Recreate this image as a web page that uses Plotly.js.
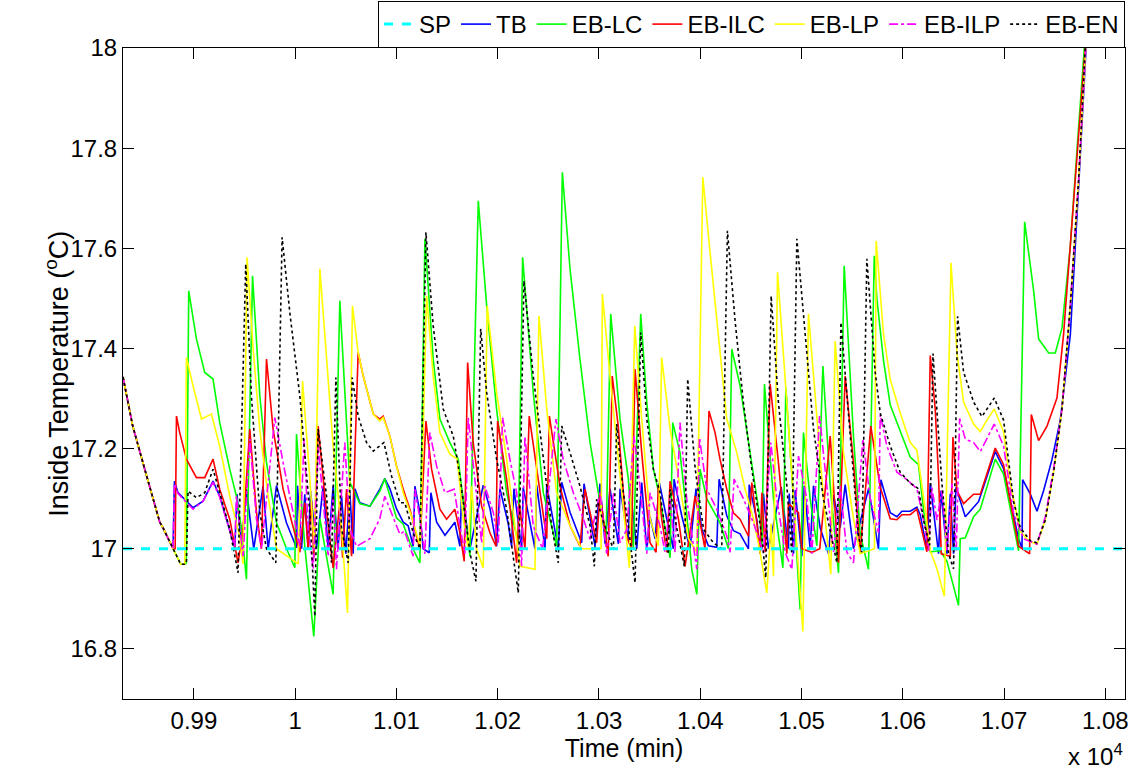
<!DOCTYPE html>
<html>
<head>
<meta charset="utf-8">
<script src="https://cdn.plot.ly/plotly-3.0.1.min.js"></script>
<style>
  html, body { margin: 0; padding: 0; background: #fff; }
  #chart { width: 1135px; height: 771px; }
</style>
</head>
<body>
<div id="chart"></div>
<script>
// time (min) / inside temperature (degC) pairs
var sp = [[9830, 17.0], [10820, 17.0]];

var tb = [[9830,17.343],[9839.6,17.245],[9853.4,17.145],[9866.3,17.053],[9869.2,17.043],[9879.4,17.0],
  [9880.8,17.135],[9884.3,17.112],[9899.2,17.082],[9909,17.095],[9918.9,17.135],[9925.5,17.105],[9932.2,17.059],[9940.4,17.002],
  [9942.6,17.109],[9947,17.0],[9951.9,17.119],[9959.1,17.0],[9968.3,17.125],[9973.3,17.0],[9981.6,17.126],[9991.4,17.052],[10001.3,17.002],
  [10002.3,17.126],[10006.3,17.0],[10009.5,17.109],[10012.8,17.0],[10015.2,17.115],[10021.1,17.0],[10027.6,17.125],[10032.6,17.0],
  [10037.5,17.125],[10042.4,17.0],[10045.8,17.106],[10050,16.99],[10054,17.115],[10057.3,16.99],[10059,17.12],[10063.9,17.092],
  [10073.8,17.085],[10083.6,17.119],[10088.5,17.14],[10093.5,17.12],[10100,17.08],[10106.7,17.053],[10111.6,17.046],[10116.5,17.005],
  [10118.2,17.125],[10123.2,17.073],[10126.4,17.0],[10132.4,16.992],[10134,17.112],[10139.7,17.053],[10147.9,17.027],[10157.7,17.053],
  [10162.7,17.005],[10164.4,17.119],[10172.6,17.0],[10185.7,17.127],[10192.4,17.08],[10198.9,17.005],[10202.2,17.12],[10210.4,17.05],
  [10213.7,17.005],[10216,17.12],[10223.6,17.0],[10225.2,17.122],[10236.8,17.0],[10238.5,17.127],[10246.7,17.0],[10248.4,17.127],
  [10259.8,17.0],[10263.2,17.133],[10271.4,17.073],[10282.9,17.012],[10285.2,17.13],[10296.1,17.005],[10301,17.13],[10306,17.01],
  [10310.9,17.12],[10319.1,17.01],[10320.8,17.12],[10329,17.016],[10330.6,17.123],[10337.3,17.0],[10342.2,17.132],[10347.2,16.997],
  [10350.4,17.064],[10355.4,17.02],[10359.6,17.132],[10366.9,17.06],[10373.4,17.0],[10374.1,17.139],[10381.7,17.066],[10389.9,17.0],
  [10395.8,17.12],[10401.5,17.04],[10408,17.006],[10416.3,17.003],[10418.6,17.139],[10426.2,17.066],[10432.8,17.036],[10439.3,17.03],
  [10447.6,17.0],[10448.3,17.128],[10455.9,17.058],[10459.1,16.99],[10462.4,17.11],[10467.3,17.0],[10479.9,17.123],[10487.1,17.0],
  [10487.8,17.11],[10492.1,16.99],[10493.7,17.117],[10500.3,16.985],[10502.6,17.126],[10508.5,17.0],[10511.8,17.126],[10518.4,17.042],
  [10526.6,16.99],[10531.6,17.107],[10538.2,17.042],[10543.1,17.128],[10551.3,17.0],[10566.2,17.12],[10576,17.0],
  [10578.4,17.138],[10587.6,17.072],[10594.2,17.064],[10599.1,17.075],[10607.3,17.075],[10613.9,17.083],[10617.2,17.068],[10623.8,16.998],
  [10627.1,17.131],[10630.4,17.072],[10635.3,16.99],[10637.7,17.116],[10643.6,16.99],[10646.9,17.11],[10650.1,16.99],[10652.5,17.123],
  [10661.7,17.064],[10674.8,17.094],[10691.3,17.194],[10699.5,17.16],[10714.3,17.02],[10717.7,17.001],[10718.3,17.138],[10725.9,17.109],
  [10732.5,17.075],[10739,17.116],[10747.4,17.179],[10755.5,17.257],[10765.4,17.427],[10773.6,17.723],[10780.2,18.004],[10782,18.04]];

var ebLC = [[9830,17.343],[9839.6,17.245],[9853.4,17.145],[9866.3,17.053],[9869.2,17.043],[9879.4,17.0],[9887,16.969],[9891,16.969],[9892.6,16.972],
  [9894.9,17.515],[9902.5,17.419],[9910.7,17.352],[9918.9,17.339],[9925.5,17.252],[9935.4,17.159],[9942,17.105],[9947,17.04],[9951.9,16.939],
  [9957.9,17.545],[9965.1,17.305],[9971.7,17.172],[9981.6,17.052],[9991.5,17.0],[9999.7,16.962],
  [10001.3,17.229],[10009.5,17.005],[10018.4,16.825],[10024.4,17.06],[10037.5,16.909],
  [10044.1,17.495],[10054,17.132],[10059,17.112],[10063.9,17.09],[10073.8,17.085],[10083.6,17.115],[10088.5,17.14],[10100,17.062],
  [10106.7,17.049],[10113.3,17.012],[10123.2,16.972],
  [10128.1,17.619],[10136.3,17.379],[10142.9,17.259],[10152.8,17.212],[10161,17.179],[10172.6,16.985],
  [10180.8,17.695],[10189.1,17.485],[10198.9,17.279],[10208.8,17.112],[10220.3,17.012],
  [10224.6,17.582],[10235.1,17.312],[10245,17.112],[10258.2,17.005],
  [10263.8,17.752],[10271.4,17.559],[10281.2,17.379],[10291.2,17.212],[10301,17.092],[10307,17.019],
  [10311.6,17.469],[10320.8,17.259],[10329,17.139],[10333.9,17.0],
  [10341.2,17.469],[10347.2,17.292],[10353.7,17.159],[10360.3,17.1],[10370.2,16.982],
  [10372.8,17.252],[10380,17.192],[10386.6,17.07],[10391.6,16.959],[10396.6,16.909],
  [10399.8,17.159],[10406.4,17.1],[10419.5,17.052],[10427.8,17.0],
  [10431.1,17.399],[10439.4,17.325],[10449.2,17.192],[10459.1,17.059],[10460.8,16.999],
  [10463.4,17.329],[10472.3,17.1],[10481.6,16.962],
  [10484.5,17.322],[10492,17.1],[10498.6,16.879],
  [10501.9,17.232],[10508.5,17.1],[10515.1,17.006],
  [10521.1,17.365],[10528.3,17.125],[10536.5,16.952],
  [10542.1,17.565],[10551.3,17.225],[10557.9,17.03],[10566.1,16.959],
  [10571.8,17.585],[10574.4,17.5],[10581,17.375],[10587.6,17.287],[10597.4,17.235],[10607.3,17.183],[10615.5,17.168],[10622.1,17.049],
  [10627.1,16.994],[10637,16.996],[10643.6,16.975],[10650.1,16.924],[10655,16.887],
  [10656.7,17.02],[10661.7,17.022],[10669.9,17.064],[10676.5,17.079],[10691.3,17.179],[10699.5,17.149],[10714.3,16.996],
  [10720.3,17.653],[10729.2,17.515],[10734.1,17.419],[10744,17.391],[10750.6,17.391],[10757.2,17.441],[10765.4,17.604],[10772,17.797],
  [10778.6,18.004],[10781,18.05]];

var ebILC = [[9830,17.343],[9839.6,17.245],[9853.4,17.145],[9866.3,17.053],[9869.2,17.043],[9879.4,17.0],[9881.5,17.0],
  [9882.8,17.265],[9886,17.232],[9892.6,17.179],[9902.5,17.142],[9910.7,17.142],[9918.9,17.179],[9925.5,17.119],[9935.4,17.059],
  [9943.6,16.972],[9948.6,17.04],[9955.2,17.239],[9961.8,17.072],[9966.7,17.0],
  [9971.7,17.379],[9978.2,17.239],[9988.1,17.119],[9998,17.04],[10004.6,16.993],
  [10009.5,17.092],[10012.8,17.0],[10016.2,17.095],[10018.4,16.982],
  [10022.7,17.245],[10029.3,17.105],[10037.5,16.962],[10044.1,17.092],[10046.8,16.982],[10050.7,17.119],[10055.7,16.985],
  [10062.2,17.392],[10067.2,17.345],[10077.1,17.269],[10083.6,17.259],[10086.9,17.265],[10093.5,17.225],[10100.1,17.165],
  [10106.7,17.119],[10113.3,17.079],[10123.1,17.0],
  [10129.1,17.255],[10134.7,17.159],[10142.9,17.079],[10149.5,17.059],[10157.7,17.079],[10162.7,17.032],[10166.9,16.975],
  [10170.3,17.372],[10175.8,17.212],[10184.1,17.085],[10192.3,17.032],[10198.3,17.005],
  [10199.9,17.255],[10208.8,17.139],[10218.7,16.972],[10221.3,17.09],[10226.9,17.0],
  [10231.1,17.265],[10240,17.139],[10248.4,17.02],
  [10251,17.265],[10261.5,17.125],[10271.4,17.046],[10281.2,17.005],[10286.2,17.119],[10297.7,17.012],[10301,17.112],[10309.1,16.985],
  [10313.1,17.345],[10319,17.245],[10327.4,17.025],[10332,17.0],
  [10335.6,17.359],[10342.2,17.192],[10350.4,17.012],[10356.4,16.993],[10358.6,17.125],[10361.9,17.06],[10366.9,16.993],
  [10370.2,17.135],[10378.4,17.06],[10385,16.965],[10394.9,17.105],[10404.7,17.0],
  [10408.6,17.275],[10414.6,17.232],[10419.5,17.179],[10426.2,17.119],[10432.7,17.072],[10439.3,17.059],[10447.6,17.025],
  [10450.9,17.132],[10457.5,17.025],[10459.1,16.99],[10460.8,17.112],[10464.1,16.993],
  [10469,17.329],[10477.2,17.172],[10485.5,16.99],[10487.1,17.09],[10497,17.072],[10500.3,17.0],[10510.2,16.993],
  [10518,17.0],[10528.3,17.225],[10536.5,16.972],
  [10543.1,17.345],[10551.3,17.172],[10557.9,16.993],
  [10568.4,17.245],[10577.7,17.123],[10587.6,17.06],[10594.2,17.058],[10599.1,17.068],[10607.3,17.068],[10613.9,17.079],[10623.8,16.994],
  [10627.1,17.386],[10632,17.279],[10635.3,17.142],[10638,16.99],[10646.9,16.985],
  [10649.5,17.223],[10653.5,17.116],[10660,17.09],[10669.9,17.109],[10676.5,17.109],[10691.3,17.201],[10699.5,17.168],[10714.3,17.005],
  [10725.2,16.99],[10726.9,17.268],[10734.1,17.216],[10742.4,17.245],[10752.2,17.301],[10758.7,17.427],[10767,17.649],[10775.2,17.871],
  [10780.2,18.004],[10782,18.05]];

var ebLP = [[9830,17.343],[9839.6,17.245],[9853.4,17.145],[9866.3,17.053],[9869.2,17.043],[9879.4,17.0],[9887,16.969],[9891,16.969],
  [9892.6,17.382],[9899.2,17.325],[9907.5,17.259],[9917.3,17.269],[9925.5,17.205],[9935.4,17.105],[9945.2,17.025],[9948.5,16.97],
  [9952.5,17.582],[9958.3,17.405],[9965,17.239],[9973.3,17.105],[9981.6,17.0],[10003,16.97],
  [10007.3,17.335],[10014.5,17.139],[10019,17.0],
  [10024.4,17.559],[10031,17.372],[10037.5,17.205],[10045.8,17.04],[10051.7,16.872],
  [10056.6,17.485],[10062.2,17.392],[10067.2,17.345],[10077.1,17.269],[10083.6,17.255],[10086.9,17.262],[10093.5,17.225],
  [10100.1,17.165],[10106.7,17.112],[10114.9,17.065],[10121.4,17.019],[10123.5,17.005],
  [10129.8,17.505],[10136.3,17.345],[10142.9,17.232],[10152.8,17.189],[10160,17.179],[10166,17.059],[10170.9,17.0],[10174.2,17.125],
  [10179,17.0],[10185.7,16.962],
  [10189.6,17.485],[10198.9,17.312],[10208.8,17.179],[10218.7,17.012],[10222,16.965],[10236.8,16.959],
  [10240.7,17.465],[10248.4,17.279],[10258.2,17.112],[10271.4,17.046],[10282.9,17.0],[10302,17.0],
  [10303.3,17.509],[10310.9,17.345],[10320.8,17.145],[10330,16.962],
  [10335.3,17.445],[10342.2,17.259],[10350.4,17.06],[10358.6,17.006],
  [10361.9,17.382],[10370.2,17.239],[10380,17.125],[10388.3,17.02],[10396.6,16.993],
  [10402.5,17.742],[10409.7,17.592],[10417.9,17.425],[10426.2,17.259],[10436.1,17.192],[10444.3,17.119],[10452.5,17.06],
  [10459.1,16.993],[10465.7,16.912],[10470,17.05],[10472.3,16.945],
  [10476.3,17.552],[10485.5,17.292],[10492.1,17.1],[10498.6,16.899],[10501.3,16.835],
  [10506.9,17.469],[10515.1,17.259],[10523.3,17.06],[10528.9,16.949],
  [10533.2,17.415],[10541.4,17.192],[10551.3,17.06],[10557.9,16.99],[10572,17.0],
  [10573.7,17.615],[10581,17.427],[10587.6,17.338],[10597.4,17.271],[10607.3,17.212],[10613.9,17.197],[10622.1,17.079],[10627.1,16.996],
  [10633.7,16.96],[10641,16.905],[10647.6,17.571],[10653.5,17.39],[10660,17.293],[10669.9,17.249],[10676.5,17.234],[10683.1,17.257],
  [10690.3,17.279],[10699.5,17.234],[10706.1,17.131],[10716,17.035],[10724.2,17.016],[10732.5,17.009],[10740.7,17.057],[10748.9,17.153],
  [10757.2,17.279],[10765.4,17.486],[10773.6,17.737],[10780.2,18.004],[10782,18.05]];

var ebILP = [[9830,17.343],[9839.6,17.245],[9853.4,17.145],[9866.3,17.053],[9869.2,17.043],[9879.4,17.0],
  [9880.8,17.13],[9884.3,17.11],[9899.2,17.079],[9909,17.095],[9918.9,17.133],[9925.5,17.103],[9932.2,17.057],[9940.4,17.005],
  [9942,17.105],[9948.6,16.985],[9955.2,17.219],[9961.8,17.059],[9966.7,17.0],
  [9979.9,17.262],[9988.1,17.172],[9998,17.072],[10004.6,17.005],
  [10008.8,17.219],[10012.8,17.04],[10017.8,16.96],
  [10022.7,17.205],[10029.3,17.059],[10032.6,16.985],[10037.5,17.105],[10040.8,16.959],[10049,17.212],[10054,17.04],[10060.6,17.005],
  [10073.8,17.02],[10083.6,17.06],[10088.5,17.105],[10103.4,17.029],[10108,17.035],[10116.5,16.985],
  [10118.2,17.119],[10123.2,17.06],[10128,16.99],
  [10133,17.232],[10139.7,17.165],[10147.9,17.112],[10157,17.119],[10162.7,17.045],[10167.5,16.99],
  [10170.9,17.262],[10179,17.112],[10184.1,17.012],[10187.4,17.125],[10195.7,17.072],[10200.6,17.012],
  [10204.8,17.262],[10212,17.179],[10218.7,17.112],[10223.6,16.965],
  [10226.9,17.225],[10235.1,17.045],[10244.3,17.0],
  [10257.5,17.259],[10264.6,17.179],[10274.7,17.112],[10284.6,17.06],[10291.2,17.019],[10301,17.112],[10307.6,16.99],[10314.2,17.112],
  [10320.8,17.012],[10327.4,17.039],
  [10334.6,17.225],[10340.5,17.125],[10347.2,16.99],[10350.4,17.112],[10360.3,17.045],[10365.2,16.993],[10370.2,17.1],[10375.1,16.993],
  [10380,17.252],[10386.6,17.1],[10396.6,16.959],
  [10399.2,17.222],[10406.4,17.119],[10416.3,17.079],[10426.2,17.025],[10429.5,16.993],
  [10433.4,17.139],[10442.6,17.1],[10452.5,17.052],[10462.4,16.993],
  [10469.7,17.212],[10475.6,17.1],[10483.8,16.993],[10490.4,16.959],
  [10497,17.185],[10505.2,17.1],[10510.2,16.99],
  [10517.8,17.265],[10525,17.125],[10531.6,16.993],[10538.2,17.125],[10544.8,16.993],[10551.3,16.972],
  [10560.6,17.219],[10567.8,17.1],[10576,17.032],
  [10577.7,17.268],[10584.3,17.205],[10594.2,17.153],[10604.1,17.138],[10613.9,17.12],[10620.5,17.057],[10625.4,16.996],[10628.7,17.123],
  [10633.7,17.057],[10638.6,17.116],[10643.6,16.996],[10648.5,17.13],[10652.8,16.996],
  [10656.1,17.26],[10661.7,17.219],[10669.9,17.212],[10676.5,17.194],[10683.1,17.219],[10690.3,17.249],[10699.5,17.205],[10709.4,17.072],
  [10719.2,17.02],[10732.5,17.009],[10740.7,17.064],[10748.9,17.16],[10757.2,17.279],[10765.4,17.486],[10773.6,17.737],[10780.2,18.004],
  [10782,18.05]];

var ebEN = [[9830,17.343],[9839.6,17.245],[9853.4,17.145],[9866.3,17.053],[9869.2,17.043],[9879.4,17.0],[9887,16.969],[9891,16.969],[9892.6,16.972],
  [9894.2,17.115],[9902.5,17.102],[9910.7,17.112],[9918.9,17.159],[9925.5,17.112],[9935.4,17.039],[9943.6,16.952],
  [9951.2,17.569],[9956.8,17.305],[9965.1,17.072],[9971.7,17.0],[9980.9,16.972],
  [9987.1,17.622],[9994.7,17.472],[10004.6,17.305],[10014.5,17.072],[10019.4,16.865],
  [10022.7,17.239],[10031,17.105],[10035.9,16.972],[10040.2,17.342],[10045.8,17.04],[10052.4,16.972],[10056.3,17.342],[10062.2,17.265],
  [10070.5,17.212],[10077.1,17.195],[10083.6,17.205],[10087.6,17.212],[10095.2,17.145],[10103.4,17.092],[10108.3,17.092],[10116.5,17.032],
  [10123.2,17.0],
  [10129.1,17.632],[10136.3,17.445],[10146.2,17.279],[10156.1,17.225],[10162.7,17.145],[10172.6,16.992],[10178.5,16.935],
  [10183.2,17.439],[10189.1,17.312],[10198.9,17.179],[10208.8,17.079],[10220.3,16.912],
  [10225.9,17.535],[10235.1,17.345],[10245,17.179],[10253.2,17.046],[10259.8,16.972],
  [10263.2,17.245],[10271.4,17.192],[10281.2,17.125],[10291.2,17.046],[10295.4,16.965],[10297.7,17.099],[10305,17.05],[10314.2,16.999],
  [10317.5,17.249],[10324.1,17.112],[10329,17.046],[10335.6,16.932],
  [10341.2,17.432],[10347.2,17.259],[10353.7,17.159],[10360.3,17.112],[10368.5,16.99],[10370.2,17.119],[10376,17.05],[10384.3,16.965],
  [10387.6,17.339],[10395,17.159],[10403.2,17.039],[10413,17.012],[10421.2,17.0],
  [10426.8,17.635],[10434.4,17.455],[10442.6,17.292],[10450.9,17.159],[10460.8,17.025],[10464.7,16.942],
  [10470,17.505],[10477.2,17.292],[10485.5,17.125],[10490.4,16.99],
  [10495.4,17.619],[10503.6,17.422],[10511.8,17.239],[10521.7,17.099],[10534.9,16.972],
  [10538.9,17.452],[10548,17.225],[10556.3,17.025],[10559.5,16.993],
  [10564.5,17.579],[10572.7,17.353],[10577.7,17.271],[10587.6,17.205],[10597.4,17.153],[10607.3,17.131],[10615.5,17.12],[10620.5,17.057],
  [10626.5,17.007],[10629.8,17.39],[10633.7,17.279],[10638.6,17.131],[10645.2,16.99],[10650.1,16.96],
  [10654.1,17.464],[10660,17.353],[10669.9,17.293],[10678.1,17.264],[10683.1,17.279],[10690.3,17.301],[10699.5,17.257],[10709.4,17.094],
  [10716,17.042],[10725.9,17.016],[10732.5,17.012],[10740.7,17.057],[10748.9,17.153],[10757.2,17.279],[10765.4,17.486],[10773.6,17.737],
  [10780.2,18.004],[10782,18.05]];

var xTickVals = [9900, 10000, 10100, 10200, 10300, 10400, 10500, 10600, 10700, 10800];
var xTickText = ['0.99', '1', '1.01', '1.02', '1.03', '1.04', '1.05', '1.06', '1.07', '1.08'];
var yTickVals = [16.8, 17, 17.2, 17.4, 17.6, 17.8, 18];
var yTickText = ['16.8', '17', '17.2', '17.4', '17.6', '17.8', '18'];

var FONT = 'Liberation Sans, Arial, Helvetica, sans-serif';

function line(name, pts, color, dash, width, rank) {
  return {
    x: pts.map(function (p) { return p[0]; }),
    y: pts.map(function (p) { return p[1]; }),
    name: name,
    mode: 'lines',
    type: 'scatter',
    legendrank: rank,
    line: {color: color, dash: dash, width: width}
  };
}

var data = [
  line('TB', tb, '#0000ff', 'solid', 1.6, 2),
  line('EB-LC', ebLC, '#00ff00', 'solid', 1.6, 3),
  line('EB-ILC', ebILC, '#ff0000', 'solid', 1.6, 4),
  line('EB-LP', ebLP, '#ffff00', 'solid', 1.6, 5),
  line('EB-ILP', ebILP, '#ff00ff', 'dashdot', 1.6, 6),
  line('EB-EN', ebEN, '#000000', 'dot', 1.6, 7),
  line('SP', sp, '#00ffff', 'dash', 3, 1)
];

var axisBase = {
  showline: true,
  linecolor: '#000',
  linewidth: 1,
  mirror: 'ticks',
  ticks: 'inside',
  ticklen: 11,
  tickcolor: '#000',
  tickwidth: 1,
  showgrid: false,
  zeroline: false,
  automargin: false,
  tickfont: {family: FONT, size: 24, color: '#000'}
};

var layout = {
  width: 1135,
  height: 771,
  margin: {l: 123, r: 10, t: 48, b: 72, autoexpand: false},
  paper_bgcolor: '#fff',
  plot_bgcolor: '#fff',
  showlegend: true,
  xaxis: Object.assign({}, axisBase, {
    range: [9830, 10819.4],
    tickmode: 'array',
    tickvals: xTickVals,
    ticktext: xTickText,
    ticklabelstandoff: 0,
    title: {text: 'Time (min)', font: {family: FONT, size: 25, color: '#000'}, standoff: 0}
  }),
  yaxis: Object.assign({}, axisBase, {
    range: [16.7, 18],
    tickmode: 'array',
    tickvals: yTickVals,
    ticktext: yTickText
  }),
  legend: {
    orientation: 'h',
    x: 1,
    xanchor: 'right',
    y: 1,
    yanchor: 'bottom',
    bgcolor: '#fff',
    bordercolor: '#000',
    borderwidth: 1,
    font: {family: FONT, size: 24, color: '#000'},
    itemwidth: 30,
    tracegroupgap: 0
  },
  annotations: [{
    // y axis title, placed by hand to sit right against the tick labels
    xref: 'paper', yref: 'paper',
    x: -0.0665, y: 0.5,
    xanchor: 'center', yanchor: 'middle',
    textangle: -90,
    text: 'Inside Temperature (<sup>o</sup>C)',
    showarrow: false,
    font: {family: FONT, size: 27, color: '#000'}
  }, {
    xref: 'paper', yref: 'paper',
    x: 1, y: -0.086,
    xanchor: 'right', yanchor: 'middle',
    text: 'x 10<sup>4</sup>',
    showarrow: false,
    font: {family: FONT, size: 24, color: '#000'}
  }]
};

Plotly.newPlot('chart', data, layout, {displayModeBar: false, responsive: false});
</script>
</body>
</html>
